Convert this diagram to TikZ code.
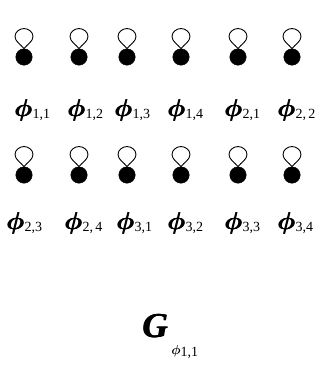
\documentclass[tikz,border=0pt]{standalone}
\usepackage{amsmath,bm}
\usepackage{fontspec}
\setmainfont{Liberation Serif}
\tikzset{
  vtx/.style={circle,fill=black,draw=black,inner sep=0pt,minimum size=16.5pt},
  lab/.style={inner sep=0pt,anchor=base west},
  loopline/.style={draw=black,line width=0.9pt}
}
\newcommand{\heavy}[1]{\makebox[0pt][l]{#1}\makebox[0pt][l]{\hspace{0.5pt}#1}\hspace{1pt}{#1}}
\newcommand{\bigphi}[1]{\heavy{\scalebox{#1}{$\bm{\phi}$}}}
\newcommand{\phiLab}[1]{\bigphi{2.45}{\fontsize{14}{14}\selectfont\raisebox{-2pt}{#1}}}
\newcommand{\selfloop}[1]{%
  \path[loopline] (#1.north) .. controls +(-3,4) and +(0,-5) .. ++(-9,12)
     .. controls +(0,5) and +(-4,0) .. ++(9,8)
     .. controls +(4,0) and +(0,5) .. ++(9,-8)
     .. controls +(0,-5) and +(3,4) .. (#1.north);}
\begin{document}
\begin{tikzpicture}[x=1pt,y=1pt]
\useasboundingbox (0,0) rectangle (320,-370);
% row 1
\foreach \n/\x in {a1/24,a2/79,a3/127,a4/181,a5/238,a6/292}{
  \node[vtx] (\n) at (\x,-57) {};
  \selfloop{\n}
}
% row 2
\foreach \n/\x in {b1/24,b2/79,b3/127,b4/181,b5/238,b6/292}{
  \node[vtx] (\n) at (\x,-175) {};
  \selfloop{\n}
}
% labels row 1
\node[lab] (la1) at (14,-116) {\phiLab{1,1}};
\node[lab] (la2) at (67,-116) {\phiLab{1,2}};
\node[lab] (la3) at (114,-116) {\phiLab{1,3}};
\node[lab] (la4) at (167,-116) {\phiLab{1,4}};
\node[lab] (la5) at (224,-116) {\phiLab{2,1}};
\node[lab] (la6) at (277,-116) {\phiLab{2,\,2}};
% labels row 2
\node[lab] (lb1) at (6,-229) {\phiLab{2,3}};
\node[lab] (lb2) at (64,-229) {\phiLab{2,\,4}};
\node[lab] (lb3) at (116,-229) {\phiLab{3,1}};
\node[lab] (lb4) at (167,-229) {\phiLab{3,2}};
\node[lab] (lb5) at (224,-229) {\phiLab{3,3}};
\node[lab] (lb6) at (277,-229) {\phiLab{3,4}};
% G label
\node[lab] (G) at (142,-337) {\heavy{\fontsize{35}{35}\selectfont\bfseries\itshape G}\hspace{3pt}\raisebox{-17pt}{\scalebox{1.3}{$\bm{\phi}$}{\fontsize{14}{14}\selectfont\raisebox{-2pt}{1,1}}}};
\end{tikzpicture}
\end{document}
